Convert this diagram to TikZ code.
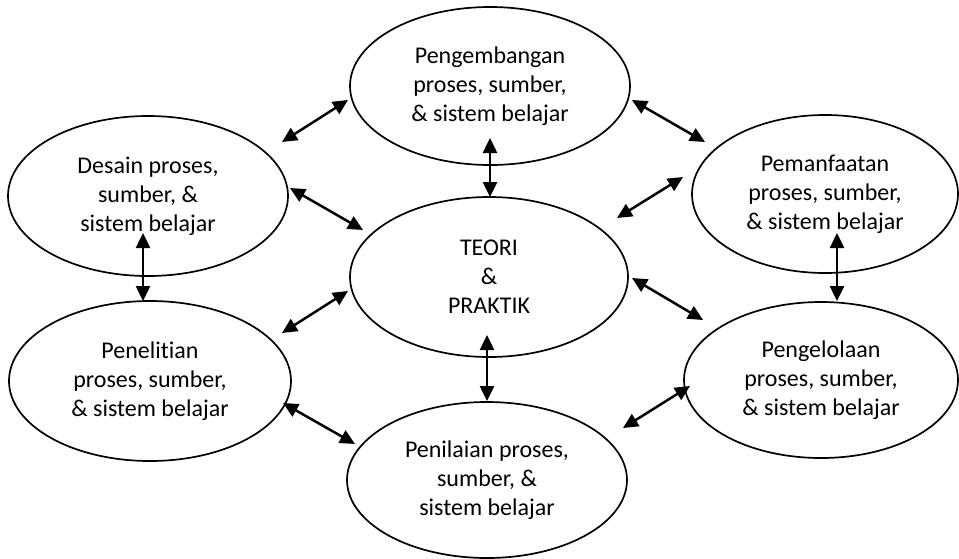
\documentclass[tikz,border=0pt]{standalone}
\usepackage{fontspec}
\setmainfont{Carlito}[Ligatures=NoCommon]
\usetikzlibrary{arrows.meta,shapes.geometric}
\begin{document}
\begin{tikzpicture}[x=1pt,y=-1pt,
  blob/.style={draw, line width=1.7pt, ellipse, align=center, inner sep=0pt,
    font=\fontsize{24}{29}\selectfont},
  link/.style={line width=2.5pt,
    {Triangle[length=15pt,width=14pt]}-{Triangle[length=15pt,width=14pt]}}]
\useasboundingbox (0,0) rectangle (959,558);

\node[blob, minimum width=280pt, minimum height=158pt] (peng) at (490,86)
  {Pengembangan\\proses, sumber,\\\& sistem belajar};
\node[blob, minimum width=278pt, minimum height=160pt] (teori) at (489,277)
  {TEORI\\\&\\PRAKTIK};
\node[blob, minimum width=280pt, minimum height=160pt] (desain) at (148,196)
  {Desain proses,\\sumber, \&\\sistem belajar};
\node[blob, minimum width=266pt, minimum height=158pt] (pemanf) at (825,194)
  {Pemanfaatan\\proses, sumber,\\\& sistem belajar};
\node[blob, minimum width=282pt, minimum height=160pt] (penel) at (150,381)
  {Penelitian\\proses, sumber,\\\& sistem belajar};
\node[blob, minimum width=274pt, minimum height=156pt] (pengel) at (821,380)
  {Pengelolaan\\proses, sumber,\\\& sistem belajar};
\node[blob, minimum width=280pt, minimum height=156pt] (penil) at (487,480)
  {Penilaian proses,\\sumber, \&\\sistem belajar};

% arrow end points
\coordinate (a1) at (282,142); \coordinate (b1) at (348,100);
\coordinate (a2) at (290,188); \coordinate (b2) at (363,230);
\coordinate (a3) at (490,138); \coordinate (b3) at (490,197);
\coordinate (a4) at (632,100); \coordinate (b4) at (705,142);
\coordinate (a5) at (617,218); \coordinate (b5) at (683,177);
\coordinate (a6) at (143,233); \coordinate (b6) at (143,301);
\coordinate (a7) at (282,333); \coordinate (b7) at (348,291);
\coordinate (a8) at (632,278); \coordinate (b8) at (703,320);
\coordinate (a9) at (837,233); \coordinate (b9) at (837,301);
\coordinate (a10) at (283,403); \coordinate (b10) at (355,444);
\coordinate (a11) at (487,335); \coordinate (b11) at (487,401);
\coordinate (a12) at (623,428); \coordinate (b12) at (690,386);

\foreach \i in {1,...,12} \draw[link] (a\i) -- (b\i);
\end{tikzpicture}
\end{document}
